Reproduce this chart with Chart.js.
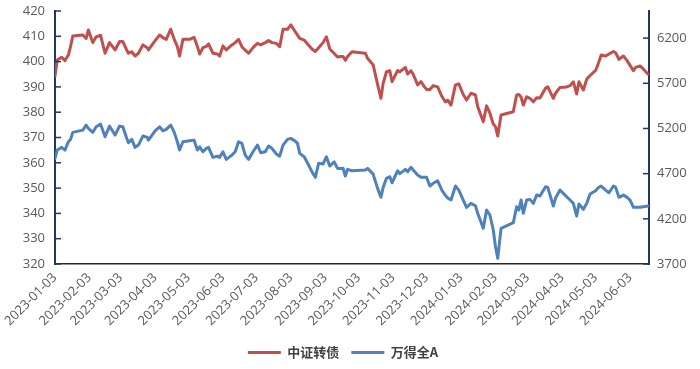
<!DOCTYPE html>
<html>
<head>
<meta charset="utf-8">
<script src="https://cdn.jsdelivr.net/npm/chart.js"></script>
<style>
  html, body { margin: 0; padding: 0; background: #fff; }
  #wrap { width: 700px; height: 369px; }
</style>
</head>
<body>
<div id="wrap"><canvas id="chart"></canvas></div>
<script>
    const dates = [
        '2023-01-03','2023-01-05','2023-01-09','2023-01-12','2023-01-15','2023-01-17','2023-01-19','2023-01-28','2023-01-31','2023-02-02',
        '2023-02-06','2023-02-09','2023-02-13','2023-02-17','2023-02-21','2023-02-26','2023-03-02','2023-03-05','2023-03-08','2023-03-10',
        '2023-03-13','2023-03-16','2023-03-19','2023-03-23','2023-03-27','2023-03-28','2023-04-03','2023-04-07','2023-04-10','2023-04-13',
        '2023-04-17','2023-04-20','2023-04-23','2023-04-25','2023-04-28','2023-05-04','2023-05-08','2023-05-11','2023-05-13','2023-05-16',
        '2023-05-19','2023-05-21','2023-05-25','2023-05-29','2023-05-31','2023-06-03','2023-06-06','2023-06-11','2023-06-14','2023-06-17',
        '2023-06-20','2023-06-23','2023-06-26','2023-06-30','2023-07-04','2023-07-07','2023-07-11','2023-07-14','2023-07-17','2023-07-21',
        '2023-07-24','2023-07-27','2023-07-31','2023-08-03','2023-08-07','2023-08-09','2023-08-11','2023-08-15','2023-08-19','2023-08-22',
        '2023-08-25','2023-08-28','2023-09-01','2023-09-04','2023-09-07','2023-09-11','2023-09-14','2023-09-17','2023-09-19','2023-09-21',
        '2023-09-23','2023-09-27','2023-10-09','2023-10-11','2023-10-16','2023-10-20','2023-10-23','2023-10-25','2023-10-28','2023-10-31',
        '2023-11-02','2023-11-07','2023-11-09','2023-11-14','2023-11-16','2023-11-19','2023-11-21','2023-11-25','2023-11-28','2023-12-01',
        '2023-12-03','2023-12-06','2023-12-09','2023-12-13','2023-12-17','2023-12-20','2023-12-22','2023-12-25','2023-12-29','2024-01-01',
        '2024-01-05','2024-01-08','2024-01-12','2024-01-16','2024-01-18','2024-01-23','2024-01-26','2024-01-29','2024-02-01','2024-02-03',
        '2024-02-05','2024-02-08','2024-02-19','2024-02-22','2024-02-24','2024-02-26','2024-02-28','2024-03-02','2024-03-05','2024-03-08',
        '2024-03-11','2024-03-14','2024-03-19','2024-03-21','2024-03-26','2024-03-28','2024-04-01','2024-04-07','2024-04-10','2024-04-13',
        '2024-04-16','2024-04-18','2024-04-22','2024-04-25','2024-04-28','2024-05-03','2024-05-05','2024-05-08','2024-05-12','2024-05-15',
        '2024-05-19','2024-05-21','2024-05-24','2024-05-28','2024-05-31','2024-06-03','2024-06-06','2024-06-08','2024-06-12','2024-06-15',
        '2024-06-19'
    ];

    // 中证转债, left axis
    const convBond = [
        394.3, 400.6, 401.7, 400.4, 402.6, 406.0, 410.1, 410.5, 409.2, 412.5,
        407.5, 409.8, 410.4, 403.3, 407.5, 404.6, 407.9, 407.9, 405.0, 403.3,
        403.9, 402.2, 403.3, 406.6, 405.5, 404.6, 408.3, 410.5, 409.5, 408.8,
        412.8, 409.0, 405.9, 402.2, 408.8, 408.8, 409.6, 406.0, 403.0, 405.5,
        406.0, 407.0, 403.3, 403.0, 402.2, 406.2, 404.6, 406.6, 407.5, 408.8,
        405.9, 404.5, 403.3, 405.5, 407.2, 406.6, 407.5, 408.3, 407.5, 407.2,
        405.9, 412.8, 412.8, 414.5, 411.8, 410.5, 409.2, 408.5, 406.5, 405.0,
        404.0, 405.5, 407.5, 409.8, 405.0, 403.2, 401.8, 402.0, 402.0, 400.5,
        402.0, 403.9, 403.3, 401.3, 398.7, 391.0, 385.5, 391.4, 396.0, 396.4,
        392.1, 396.5, 396.0, 397.7, 395.1, 396.4, 395.0, 390.8, 392.1, 390.1,
        389.0, 389.0, 390.5, 390.0, 386.1, 384.1, 384.8, 382.8, 390.8, 391.2,
        387.0, 384.8, 387.5, 386.8, 382.2, 376.2, 382.5, 379.6, 375.3, 374.3,
        370.6, 378.9, 380.2, 386.8, 387.0, 386.0, 382.8, 386.1, 385.5, 384.1,
        385.7, 385.6, 389.5, 390.0, 385.5, 387.5, 389.8, 390.0, 390.5, 392.0,
        387.2, 392.0, 388.8, 393.0, 394.5, 396.5, 398.7, 402.6, 402.2, 403.0,
        404.0, 403.5, 400.9, 402.2, 400.6, 398.5, 396.4, 397.7, 398.3, 397.0,
        395.1
    ];

    // 万得全A, right axis
    const windA = [
        4869, 4961, 4991, 4961, 5053, 5079, 5157, 5182, 5237, 5200,
        5157, 5219, 5248, 5108, 5226, 5127, 5226, 5219, 5108, 5042,
        5079, 4991, 5016, 5116, 5101, 5071, 5174, 5219, 5174, 5190,
        5237, 5163, 5053, 4961, 5053, 5064, 5071, 4961, 4997, 4942,
        4980, 4991, 4880, 4894, 4880, 4942, 4858, 4905, 4942, 5053,
        5035, 4905, 4858, 4942, 5016, 4931, 4942, 5005, 4980, 4917,
        4894, 5016, 5079, 5090, 5060, 5035, 4924, 4887, 4795, 4721,
        4659, 4814, 4806, 4887, 4784, 4831, 4758, 4758, 4760, 4673,
        4747, 4732, 4740, 4758, 4695, 4537, 4438, 4548, 4648, 4666,
        4599, 4732, 4700, 4747, 4721, 4770, 4740, 4684, 4659, 4659,
        4659, 4563, 4593, 4621, 4511, 4460, 4430, 4408, 4563, 4518,
        4408, 4327, 4371, 4345, 4261, 4095, 4297, 4242, 4076, 3891,
        3763, 4095, 4157, 4334, 4297, 4408, 4261, 4408, 4415, 4371,
        4463, 4452, 4555, 4548, 4341, 4430, 4518, 4444, 4408, 4371,
        4231, 4364, 4305, 4371, 4474, 4511, 4540, 4563, 4518, 4489,
        4563, 4548, 4438, 4463, 4440, 4408, 4327, 4327, 4327, 4334,
        4341
    ];

    const tickDates = [
        '2023-01-03','2023-02-03','2023-03-03','2023-04-03','2023-05-03','2023-06-03',
        '2023-07-03','2023-08-03','2023-09-03','2023-10-03','2023-11-03','2023-12-03',
        '2024-01-03','2024-02-03','2024-03-03','2024-04-03','2024-05-03','2024-06-03'
    ];
    const rightTicks = [3700, 4200, 4700, 5200, 5700, 6200];
    const lastDay = '2024-06-20';

    const RED = '#c0504d';
    const BLUE = '#4f81bd';
    const AXIS = '#1f3864';
    const TXT = '#595959';

    const ts = s => Date.parse(s);
    const tickFont = { family: "'Open Sans', 'Noto Sans', sans-serif", size: 13 };

    // short tick marks that sit inside the plot, like the source
    const innerTicks = {
        id: 'innerTicks',
        afterDraw(chart) {
            const { ctx, chartArea } = chart;
            ctx.save();
            ctx.strokeStyle = AXIS;
            ctx.lineWidth = 1.5;
            ['y', 'y1'].forEach(id => {
                const s = chart.scales[id];
                s.ticks.forEach(tk => {
                    const py = s.getPixelForValue(tk.value);
                    const x0 = id === 'y' ? chartArea.left : chartArea.right;
                    const x1 = id === 'y' ? x0 + 6 : x0 - 6;
                    ctx.beginPath();
                    ctx.moveTo(x0, py);
                    ctx.lineTo(x1, py);
                    ctx.stroke();
                });
            });
            ctx.restore();
        }
    };

    new Chart(document.getElementById('chart'), {
        type: 'line',
        data: {
            datasets: [
                {
                    label: '中证转债',
                    data: dates.map((d, i) => ({ x: ts(d), y: convBond[i] })),
                    yAxisID: 'y',
                    borderColor: RED,
                    backgroundColor: RED,
                    borderWidth: 3,
                    borderCapStyle: 'round',
                    borderJoinStyle: 'round',
                    pointRadius: 0,
                    tension: 0
                },
                {
                    label: '万得全A',
                    data: dates.map((d, i) => ({ x: ts(d), y: windA[i] })),
                    yAxisID: 'y1',
                    borderColor: BLUE,
                    backgroundColor: BLUE,
                    borderWidth: 3,
                    borderCapStyle: 'round',
                    borderJoinStyle: 'round',
                    pointRadius: 0,
                    tension: 0
                }
            ]
        },
        options: {
            responsive: true,
            maintainAspectRatio: false,
            animation: false,
            layout: { padding: { top: 11, left: 0, right: 14, bottom: 0 } },
            plugins: {
                tooltip: { enabled: false },
                legend: {
                    position: 'bottom',
                    labels: {
                        usePointStyle: true,
                        pointStyle: 'line',
                        pointStyleWidth: 33,
                        padding: 12,
                        color: '#404040',
                        font: { family: "'Noto Sans CJK SC', sans-serif", size: 13, weight: 'bold' }
                    }
                }
            },
            scales: {
                x: {
                    type: 'linear',
                    min: ts(dates[0]),
                    max: ts(lastDay),
                    afterBuildTicks: s => { s.ticks = tickDates.map(d => ({ value: ts(d) })); },
                    afterFit: s => { s.height = 70; s.paddingLeft = 0; s.paddingRight = 0; },
                    grid: { display: false, drawTicks: false },
                    border: { color: '#262626', width: 1.5 },
                    ticks: {
                        autoSkip: false,
                        maxRotation: 45,
                        minRotation: 45,
                        padding: 6,
                        color: TXT,
                        font: tickFont,
                        callback: v => new Date(v).toISOString().slice(0, 10)
                    }
                },
                y: {
                    position: 'left',
                    min: 320,
                    max: 420,
                    afterFit: s => { s.width = 55; s.paddingTop = 0; s.paddingBottom = 0; },
                    grid: { display: false, drawTicks: false },
                    border: { color: AXIS, width: 2 },
                    ticks: { stepSize: 10, padding: 10, color: TXT, font: tickFont }
                },
                y1: {
                    position: 'right',
                    min: 3700,
                    max: 6500,
                    afterBuildTicks: s => { s.ticks = rightTicks.map(v => ({ value: v })); },
                    afterFit: s => { s.width = 37; s.paddingTop = 0; s.paddingBottom = 0; },
                    grid: { display: false, drawTicks: false },
                    border: { color: AXIS, width: 2 },
                    ticks: { padding: 8, color: TXT, font: tickFont, callback: v => String(v) }
                }
            }
        },
        plugins: [innerTicks]
    });
</script>
</body>
</html>
